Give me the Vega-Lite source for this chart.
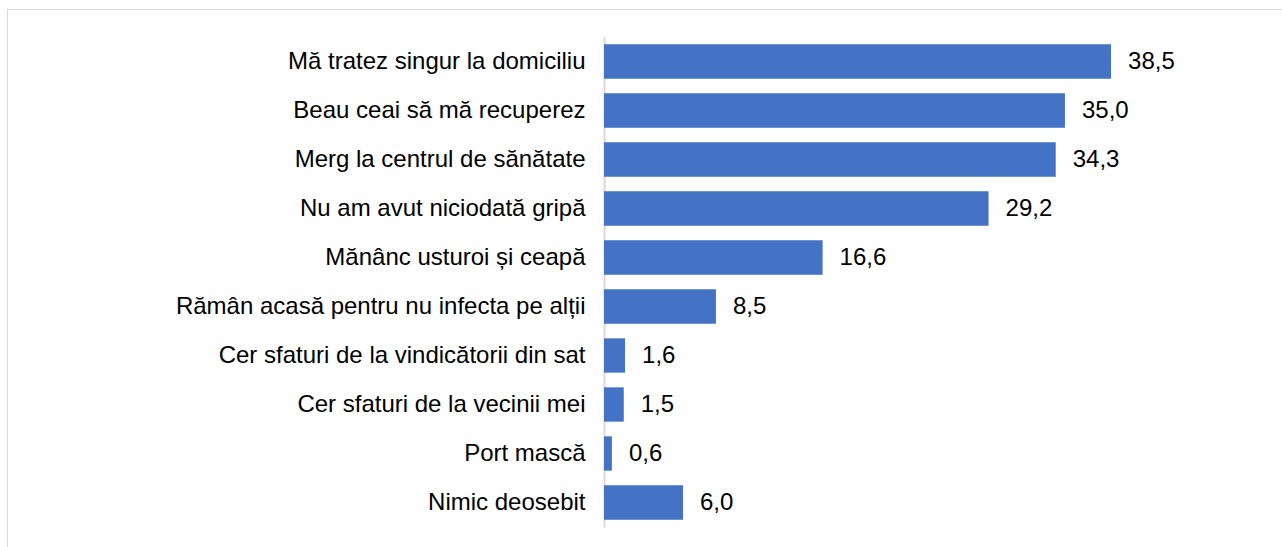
{
  "$schema": "https://vega.github.io/schema/vega-lite/v6.json",
  "autosize": {"type": "none"},
  "padding": {"left": 7, "top": 9, "right": -20, "bottom": -20},
  "width": 1295,
  "height": 558,
  "background": "#ffffff",
  "config": {
    "view": {"stroke": "#d9d9d9", "strokeWidth": 1},
    "font": "Liberation Sans",
    "locale": {"number": {"decimal": ",", "thousands": ".", "grouping": [3], "currency": ["", ""]}}
  },
  "data": {
    "values": [
      {"categorie": "Mă tratez singur la domiciliu", "procent": 38.5},
      {"categorie": "Beau ceai să mă recuperez", "procent": 35.0},
      {"categorie": "Merg la centrul de sănătate", "procent": 34.3},
      {"categorie": "Nu am avut niciodată gripă", "procent": 29.2},
      {"categorie": "Mănânc usturoi și ceapă", "procent": 16.6},
      {"categorie": "Rămân acasă pentru nu infecta pe alții", "procent": 8.5},
      {"categorie": "Cer sfaturi de la vindicătorii din sat", "procent": 1.6},
      {"categorie": "Cer sfaturi de la vecinii mei", "procent": 1.5},
      {"categorie": "Port mască", "procent": 0.6},
      {"categorie": "Nimic deosebit", "procent": 6.0}
    ]
  },
  "encoding": {
    "y": {
      "field": "categorie",
      "type": "nominal",
      "sort": null,
      "scale": {"paddingInner": 0.3, "paddingOuter": 0.15, "range": [28, 518]},
      "axis": {
        "title": null,
        "ticks": false,
        "offset": -597,
        "labelPadding": 19,
        "labelFontSize": 24,
        "labelColor": "#000000",
        "labelFont": "Liberation Sans",
        "labelLimit": 0,
        "domainColor": "#d9d9d9",
        "domainWidth": 2
      }
    },
    "x": {
      "field": "procent",
      "type": "quantitative",
      "scale": {"domain": [0, 53.0], "range": [597, 1295], "nice": false, "zero": true},
      "axis": null
    }
  },
  "layer": [
    {"mark": {"type": "bar", "color": "#4472C4"}},
    {
      "mark": {"type": "text", "align": "left", "baseline": "middle", "dx": 17, "fontSize": 24, "color": "#000000", "font": "Liberation Sans"},
      "encoding": {"text": {"field": "procent", "type": "quantitative", "format": ".1f"}}
    }
  ]
}
